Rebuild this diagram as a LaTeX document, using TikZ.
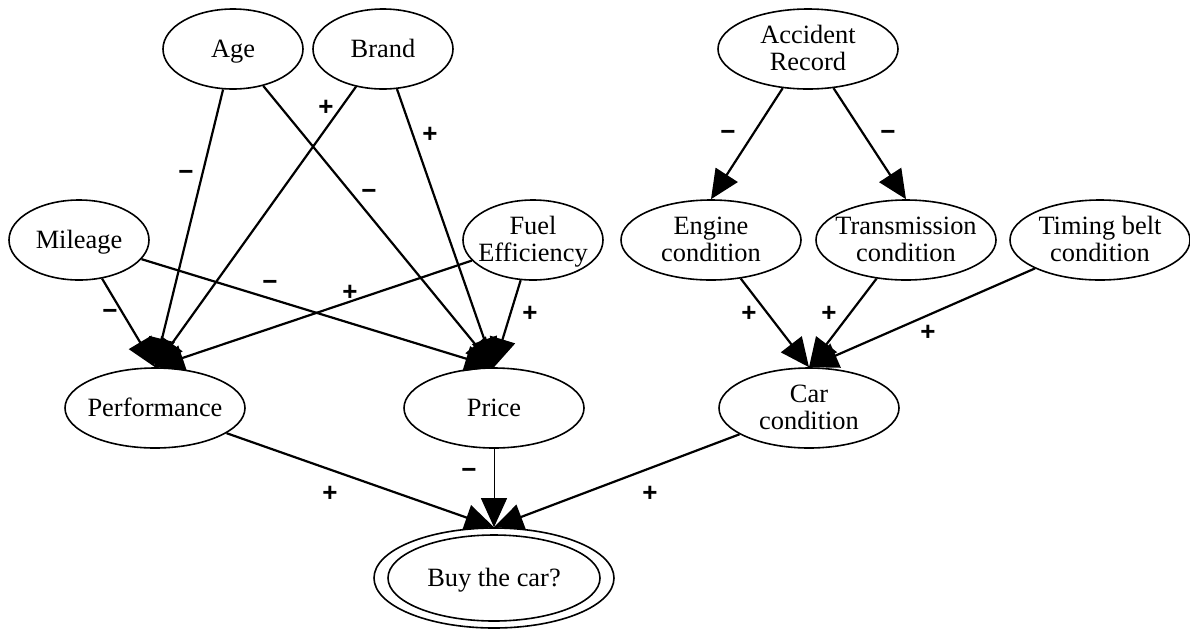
\documentclass[tikz,border=0pt]{standalone}
\usepackage{fontspec}
\setmainfont{Liberation Serif}
\newfontfamily\signfont{Liberation Sans}
\usetikzlibrary{arrows.meta, shapes.geometric}
\newcommand{\lines}[1]{\makebox[0pt]{\raisebox{-1.5pt}[\height][\depth]{\begin{tabular}{@{}c@{}}#1\end{tabular}}}}

\begin{document}
\begin{tikzpicture}[x=0.5pt,y=-0.5pt,-{Triangle[length=14.5pt,width=13pt]},
                    line width=1.1pt,font=\fontsize{13.2}{13.5}\selectfont]
  \tikzstyle{var}=[ellipse,draw,line width=0.8pt,inner sep=0pt,minimum height=40pt]
  \tikzstyle{small}=[var,minimum width=70pt]
  \tikzstyle{wide}=[var,minimum width=90pt]
  \tikzstyle{sign}=[inner sep=0pt,font=\signfont\bfseries\fontsize{13}{13}\selectfont]
  \useasboundingbox (0,0) rectangle (1190,628);

  \node[small] (age)      at (233,49)  {\lines{Age}};
  \node[small] (brand)    at (383,49)  {\lines{Brand}};
  \node[wide]  (accident) at (808,49)  {\lines{Accident\\Record}};
  \node[small] (mileage)  at (79,240)  {\lines{Mileage}};
  \node[small] (fuel)     at (533,240) {\lines{Fuel\\Efficiency}};
  \node[wide]  (engine)   at (711,240) {\lines{Engine\\condition}};
  \node[wide]  (trans)    at (906,240) {\lines{Transmission\\condition}};
  \node[wide]  (timing)   at (1100,240) {\lines{Timing belt\\condition}};
  \node[wide]  (perf)     at (155,408) {\lines{Performance}};
  \node[wide]  (price)    at (494,408) {\lines{Price}};
  \node[wide]  (car)      at (809,408) {\lines{Car\\condition}};
  \node[var,minimum width=120pt,minimum height=50pt] (buy) at (494,578) {\lines{Buy the car?}};
  \draw[-,line width=0.8pt] (buy.center) ellipse [x radius=53pt, y radius=21.5pt];

  \path (age)      edge (perf.north)
                   edge (price.north)
        (brand)    edge (perf.north)
                   edge (price.north)
        (mileage)  edge (perf.north)
                   edge (price.north)
        (fuel)     edge (perf.north)
                   edge (price.north)
        (accident) edge (engine.north)
                   edge (trans.north)
        (engine)   edge (car.north)
        (trans)    edge (car.north)
        (timing)   edge (car.north)
        (perf)     edge (buy.north)
        (car)      edge (buy.north);
  \draw[line width=0.5pt] (price) -- (buy.north);

  \node[sign] (sagperf)   at (186,175) {−};
  \node[sign] (sbrperf)   at (326,108) {+};
  \node[sign] (sagprice)  at (369,194) {−};
  \node[sign] (sbrprice)  at (430,135) {+};
  \node[sign] (smiprice)  at (270,285) {−};
  \node[sign] (sfuperf)   at (350,293) {+};
  \node[sign] (smiperf)   at (110,314) {−};
  \node[sign] (sfuprice)  at (530,314) {+};
  \node[sign] (sacengine) at (728,135) {−};
  \node[sign] (sactrans)  at (888,135) {−};
  \node[sign] (sengcar)   at (749,314) {+};
  \node[sign] (strcar)    at (829,314) {+};
  \node[sign] (stimcar)   at (928,333) {+};
  \node[sign] (sperfbuy)  at (330,494) {+};
  \node[sign] (spricebuy) at (469,473) {−};
  \node[sign] (scarbuy)   at (650,494) {+};
\end{tikzpicture}
\end{document}
